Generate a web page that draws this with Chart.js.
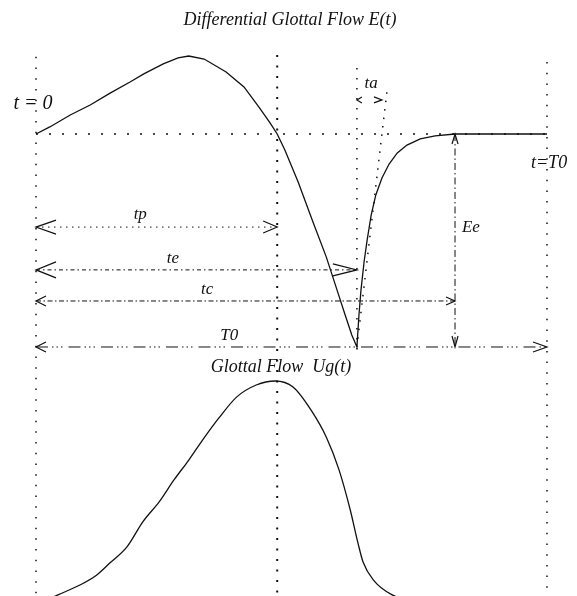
<!DOCTYPE html>
<html>
<head>
<meta charset="utf-8">
<style>
  html, body { margin: 0; padding: 0; background: #fff; }
  #wrap { width: 577px; height: 596px; }
</style>
<script src="https://cdn.jsdelivr.net/npm/chart.js@4/dist/chart.umd.min.js"></script>
</head>
<body>
<div id="wrap"><canvas id="c" width="577" height="596"></canvas></div>
<script>
// LF glottal source model, one period (time in ms, E normalised to Ee)
const T0 = 10.0;   // period
const tp = 4.72;   // instant of maximum glottal flow
const te = 6.28;   // instant of maximum excitation
const ta = 0.49;   // return phase time constant
const tc = 8.20;   // closure instant
const Ee = 1.0;    // excitation amplitude

// Differential glottal flow E(t)
const eTime  = [0, 0.27, 0.67, 1.06, 1.45, 1.84, 2.11, 2.49, 2.78, 2.99, 3.29, 3.72, 4.07, 4.36, 4.58, 4.72,
                4.87, 5.13, 5.42, 5.68, 5.89, 6.05, 6.18, 6.28,
                6.32, 6.36, 6.42, 6.48, 6.56, 6.65, 6.77, 6.91, 7.07, 7.26, 7.52, 7.81, 8.20, 10.0];
const eValue = [0, 0.033, 0.089, 0.136, 0.192, 0.244, 0.282, 0.329, 0.357, 0.366, 0.352, 0.291, 0.221, 0.127, 0.052, 0,
                -0.075, -0.225, -0.413, -0.577, -0.732, -0.850, -0.944, -1.0,
                -0.850, -0.732, -0.601, -0.498, -0.380, -0.286, -0.207, -0.141, -0.089, -0.052, -0.023, -0.009, 0, 0];

// Glottal flow Ug(t), normalised to its peak
const ugTime  = [0, 0.43, 0.86, 1.19, 1.45, 1.78, 2.09, 2.41, 2.70, 2.99, 3.29, 3.58, 3.93, 4.31, 4.68,
                 5.03, 5.38, 5.68, 5.93, 6.15, 6.30, 6.40, 6.60, 6.97, 7.52, 8.20];
const ugValue = [0, 0.045, 0.089, 0.134, 0.188, 0.259, 0.371, 0.460, 0.558, 0.647, 0.746, 0.835, 0.929, 0.982, 1.0,
                 0.973, 0.871, 0.750, 0.603, 0.424, 0.277, 0.192, 0.112, 0.045, 0.013, 0];

// Text labels
const titleE  = 'Differential Glottal Flow E(t)';
const titleUg = 'Glottal Flow  Ug(t)';

const pts = (xs, ys) => xs.map((x, i) => ({ x, y: ys[i] }));
const seg = (x0, y0, x1, y1) => [{ x: x0, y: y0 }, { x: x1, y: y1 }];

// vertical placement of the dimension arrows (E units)
const row = { tp: -0.437, te: -0.638, tc: -0.784, T0: -Ee, ta: 0.16 };
const topE = 0.629, botE = -2.169;

const INK = '#111';
const line = (data, extra) => Object.assign({
  data, showLine: true, pointRadius: 0, borderColor: INK, borderWidth: 1,
  tension: 0, yAxisID: 'yE', fill: false
}, extra || {});

// the return-phase tangent: through (te, -Ee) and (te + ta, 0), extended upward
const tanTop = 0.197;

const datasets = [
  line(pts(eTime, eValue), { borderWidth: 1.3 }),
  line(pts(ugTime, ugValue), { yAxisID: 'yU', borderWidth: 1.3, cubicInterpolationMode: 'monotone' }),
  // reference lines
  line(seg(0, 0, T0, 0), { borderDash: [2, 11], borderWidth: 1.5 }),
  line(seg(0, 0.362, 0, botE), { borderDash: [1.5, 9.2], borderWidth: 1.5 }),
  line(seg(tp, 0.371, tp, botE), { borderDash: [2, 8.5], borderWidth: 2 }),
  line(seg(te, 0.31, te, -1.05), { borderDash: [1.5, 8.5], borderWidth: 1.5 }),
  line(seg(T0, 0.338, T0, botE), { borderDash: [1.5, 9.2], borderWidth: 1.5 }),
  line(seg(te, -Ee, te + ta * (1 + tanTop / Ee), tanTop), { borderDash: [1.5, 7], borderWidth: 1.5 }),
  // dimension arrow shafts
  line(seg(0, row.tp, tp, row.tp), { borderDash: [1.5, 4.5] }),
  line(seg(0, row.te, te, row.te), { borderDash: [4, 3, 1.5, 3] }),
  line(seg(0, row.tc, tc, row.tc), { borderDash: [5, 2.5, 1.5, 2.5] }),
  line(seg(0, row.T0, T0, row.T0), { borderDash: [12, 4, 1.5, 3, 1.5, 3, 1.5, 6] }),
  line(seg(tc, 0, tc, -Ee), { borderDash: [7, 3, 1.5, 3] })
];

const serif = '"Liberation Serif", "Times New Roman", serif';

const annotate = {
  id: 'annotate',
  afterDatasetsDraw(chart, args, opts) {
    const ctx = chart.ctx;
    const sx = chart.scales.x, sy = chart.scales.yE;
    ctx.save();
    ctx.strokeStyle = INK;
    ctx.lineWidth = 1.2;
    const head = (t, e, dx, dy, len, half) => {
      const px = sx.getPixelForValue(t), py = sy.getPixelForValue(e);
      const bx = px - dx * len, by = py - dy * len;
      ctx.beginPath();
      ctx.moveTo(bx - dy * half, by + dx * half);
      ctx.lineTo(px, py);
      ctx.lineTo(bx + dy * half, by - dx * half);
      ctx.stroke();
    };
    for (const a of opts.arrows) {
      if (a.dir === 'h') {
        head(a.from, a.at, -1, 0, a.start[0], a.start[1]);
        head(a.to, a.at, 1, 0, a.end[0], a.end[1]);
      } else {
        head(a.at, a.from, 0, -1, a.start[0], a.start[1]);
        head(a.at, a.to, 0, 1, a.end[0], a.end[1]);
      }
    }
    ctx.fillStyle = INK;
    ctx.textAlign = 'center';
    ctx.textBaseline = 'middle';
    for (const l of opts.labels) {
      ctx.font = 'italic ' + l.size + 'px ' + serif;
      ctx.fillText(l.text, sx.getPixelForValue(l.t), sy.getPixelForValue(l.e));
    }
    ctx.restore();
  }
};

new Chart(document.getElementById('c'), {
  type: 'scatter',
  data: { datasets },
  options: {
    responsive: false,
    animation: false,
    devicePixelRatio: 1,
    layout: { padding: 0 },
    scales: {
      x:  { type: 'linear', min: -0.7045, max: 10.587, display: false },
      yE: { type: 'linear', min: botE, max: topE, display: false },
      yU: { type: 'linear', min: 0.040, max: 2.701, display: false }
    },
    plugins: {
      legend: { display: false },
      tooltip: { enabled: false },
      annotate: {
        arrows: [
          { dir: 'h', at: row.tp, from: 0, to: tp, start: [20, 7], end: [14, 6] },
          { dir: 'h', at: row.te, from: 0, to: te, start: [20, 8], end: [24, 6] },
          { dir: 'h', at: row.tc, from: 0, to: tc, start: [10, 5], end: [9, 4] },
          { dir: 'h', at: row.T0, from: 0, to: T0, start: [10, 5], end: [14, 5] },
          { dir: 'h', at: row.ta, from: te, to: te + ta, start: [5, 3], end: [8, 3] },
          { dir: 'v', at: tc, from: 0, to: -Ee, start: [10, 3], end: [11, 3] }
        ],
        labels: [
          { text: titleE, t: 4.97, e: 0.535, size: 18 },
          { text: titleUg, t: 4.795, e: -1.094, size: 18 },
          { text: 't = 0', t: -0.06, e: 0.141, size: 20 },
          { text: 't=T0', t: 10.04, e: -0.136, size: 18 },
          { text: 'ta', t: 6.56, e: 0.235, size: 17 },
          { text: 'tp', t: 2.04, e: -0.380, size: 17 },
          { text: 'te', t: 2.68, e: -0.587, size: 17 },
          { text: 'tc', t: 3.35, e: -0.728, size: 17 },
          { text: 'T0', t: 3.78, e: -0.948, size: 17 },
          { text: 'Ee', t: 8.51, e: -0.441, size: 17 }
        ]
      }
    }
  },
  plugins: [annotate]
});
</script>
</body>
</html>
